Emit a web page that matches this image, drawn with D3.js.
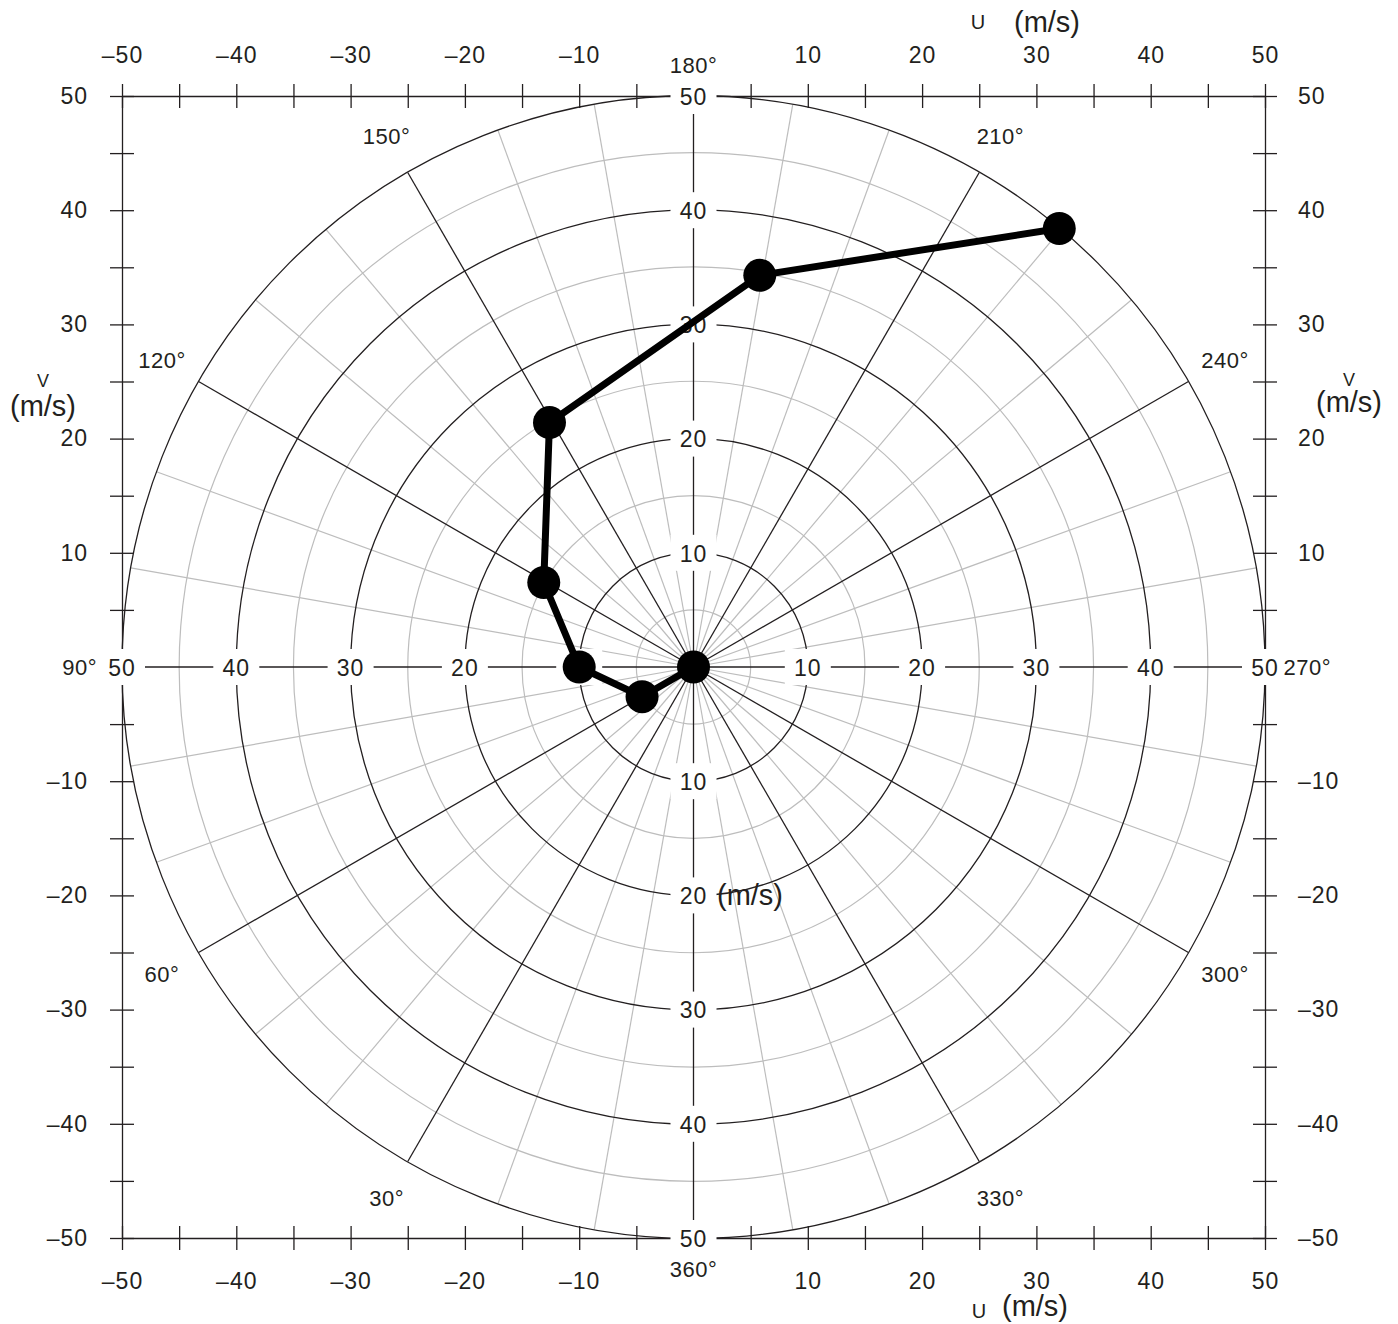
<!DOCTYPE html>
<html>
<head>
<meta charset="utf-8">
<script src="https://cdn.jsdelivr.net/npm/d3@7"></script>
<style>
  html, body { margin: 0; padding: 0; background: #fff; }
  svg text { font-family: "Liberation Sans", Arial, Helvetica, sans-serif; fill: #231f20; }
</style>
</head>
<body>
<svg id="chart" width="1398" height="1324"></svg>
<script>
/*------------------------- data -------------------------*/
// hodograph points, wind components in m/s
const uComp = [0, -4.5, -10.0, -13.1, -12.6, 5.8, 32.0];
const vComp = [0, -2.6, 0.0, 7.4, 21.4, 34.3, 38.4];

// frame ticks (every 5 m/s, labelled every 10 except 0)
const frameTicks = [-50, -45, -40, -35, -30, -25, -20, -15, -10, -5, 0, 5, 10, 15, 20, 25, 30, 35, 40, 45, 50];
// speed rings and their labels along the axes
const ringsMajor = [10, 20, 30, 40, 50];
const ringsMinor = [5, 15, 25, 35, 45];
// direction spokes (degrees)
const spokesMajor = [0, 30, 60, 90, 120, 150, 180, 210, 240, 270, 300, 330];
const spokesMinor = [10, 20, 40, 50, 70, 80, 100, 110, 130, 140, 160, 170, 190, 200, 220, 230, 250, 260, 280, 290, 310, 320, 340, 350];
const angleLabels = [30, 60, 90, 120, 150, 180, 210, 240, 270, 300, 330, 360];

/*------------------------- setup ------------------------*/
const ink = "#231f20";
const grey = "#bdbdbd";
const svg = d3.select("#chart");

const x = d3.scaleLinear().domain([-50, 50]).range([122, 1265]);
const y = d3.scaleLinear().domain([-50, 50]).range([1238, 96]);
const r = d3.scaleLinear().domain([0, 50]).range([0, x(50) - x(0)]);
const cx = x(0), cy = y(0);

// direction the wind comes from -> point on the chart
function polar(dir, s) {
    const a = dir * Math.PI / 180;
    return [x(-s * Math.sin(a)), y(-s * Math.cos(a))];
}

const fmt = d => (d === 0 || d % 10 !== 0) ? "" : (d < 0 ? "\u2013" + Math.abs(d) : "" + d);

/*-------------------------- grid ------------------------*/
const grid = svg.append("g");

grid.selectAll("line.minor")
    .data(spokesMinor)
    .enter().append("line")
    .attr("x1", cx).attr("y1", cy)
    .attr("x2", d => polar(d, 50)[0])
    .attr("y2", d => polar(d, 50)[1])
    .attr("stroke", grey).attr("stroke-width", 1.2);

grid.selectAll("circle.minor")
    .data(ringsMinor)
    .enter().append("circle")
    .attr("cx", cx).attr("cy", cy)
    .attr("r", d => r(d))
    .attr("fill", "none")
    .attr("stroke", grey).attr("stroke-width", 1.2);

grid.selectAll("line.major")
    .data(spokesMajor)
    .enter().append("line")
    .attr("x1", cx).attr("y1", cy)
    .attr("x2", d => polar(d, 50)[0])
    .attr("y2", d => polar(d, 50)[1])
    .attr("stroke", ink).attr("stroke-width", 1.3);

grid.selectAll("circle.major")
    .data(ringsMajor)
    .enter().append("circle")
    .attr("cx", cx).attr("cy", cy)
    .attr("r", d => r(d))
    .attr("fill", "none")
    .attr("stroke", ink).attr("stroke-width", 1.3);

/*------------------------- frame ------------------------*/
function styleAxis(g) {
    g.attr("color", ink);
    g.selectAll("text").style("font-size", "23px").style("letter-spacing", "1px");
    g.selectAll(".domain").attr("stroke-width", 1.3);
    g.selectAll(".tick line").attr("stroke-width", 1.3);
}

svg.append("g")
    .attr("transform", "translate(0," + y(50) + ")")
    .call(d3.axisTop(x).tickValues(frameTicks).tickFormat(fmt).tickSizeOuter(0).tickSizeInner(12).tickPadding(21))
    .call(styleAxis)
    .call(g => g.selectAll(".tick line").attr("y1", 12));

svg.append("g")
    .attr("transform", "translate(0," + y(-50) + ")")
    .call(d3.axisBottom(x).tickValues(frameTicks).tickFormat(fmt).tickSizeOuter(0).tickSizeInner(12).tickPadding(23))
    .call(styleAxis)
    .call(g => g.selectAll(".tick line").attr("y1", -12));

svg.append("g")
    .attr("transform", "translate(" + x(-50) + ",0)")
    .call(d3.axisLeft(y).tickValues(frameTicks).tickFormat(fmt).tickSizeOuter(0).tickSizeInner(12).tickPadding(22))
    .call(styleAxis)
    .call(g => g.selectAll(".tick line").attr("x1", 12));

svg.append("g")
    .attr("transform", "translate(" + x(50) + ",0)")
    .call(d3.axisRight(y).tickValues(frameTicks).tickFormat(fmt).tickSizeOuter(0).tickSizeInner(12).tickPadding(21))
    .call(styleAxis)
    .call(g => g.selectAll(".tick line").attr("x1", -12));

/*-------------------- speed labels on axes ---------------*/
const inner = [];
ringsMajor.forEach(s => {
    inner.push({ px: x(-s), py: cy, t: s });
    inner.push({ px: x(s), py: cy, t: s });
    inner.push({ px: cx, py: y(s), t: s });
    inner.push({ px: cx, py: y(-s), t: s });
});

const lab = svg.append("g").selectAll("g")
    .data(inner)
    .enter().append("g")
    .attr("transform", d => "translate(" + d.px + "," + d.py + ")");

lab.append("rect")
    .attr("x", -23).attr("y", -18)
    .attr("width", 46).attr("height", 36)
    .attr("fill", "#fff");

lab.append("text")
    .attr("text-anchor", "middle")
    .attr("dy", "0.38em")
    .style("font-size", "23px")
    .style("letter-spacing", "1px")
    .text(d => d.t);

/*--------------------- direction labels ------------------*/
svg.append("g").selectAll("text")
    .data(angleLabels)
    .enter().append("text")
    .attr("x", d => polar(d, d % 180 === 0 ? 52.7 : 53.7)[0])
    .attr("y", d => polar(d, d % 180 === 0 ? 52.7 : 53.7)[1])
    .attr("text-anchor", "middle")
    .attr("dy", "0.36em")
    .style("font-size", "22px")
    .style("letter-spacing", "0.5px")
    .text(d => d + "\u00b0");

/*-------------------------- titles ----------------------*/
const titles = svg.append("g");
titles.append("text").attr("x", 978).attr("y", 29).attr("text-anchor", "middle").style("font-size", "20px").text("U");
titles.append("text").attr("x", 1047).attr("y", 32).attr("text-anchor", "middle").style("font-size", "29px").text("(m/s)");
titles.append("text").attr("x", 979).attr("y", 1318).attr("text-anchor", "middle").style("font-size", "20px").text("U");
titles.append("text").attr("x", 1035).attr("y", 1316).attr("text-anchor", "middle").style("font-size", "29px").text("(m/s)");
titles.append("text").attr("x", 43).attr("y", 387).attr("text-anchor", "middle").style("font-size", "18px").text("V");
titles.append("text").attr("x", 43).attr("y", 416).attr("text-anchor", "middle").style("font-size", "29px").text("(m/s)");
titles.append("text").attr("x", 1349).attr("y", 386).attr("text-anchor", "middle").style("font-size", "18px").text("V");
titles.append("text").attr("x", 1349).attr("y", 412).attr("text-anchor", "middle").style("font-size", "29px").text("(m/s)");
titles.append("text").attr("x", 750).attr("y", 905).attr("text-anchor", "middle").style("font-size", "29px").text("(m/s)");

/*--------------------------- data -----------------------*/
const pts = uComp.map((u, i) => ({ u: u, v: vComp[i] }));

svg.append("path")
    .datum(pts)
    .attr("fill", "none")
    .attr("stroke", "#000")
    .attr("stroke-width", 7)
    .attr("stroke-linejoin", "round")
    .attr("d", d3.line().x(d => x(d.u)).y(d => y(d.v)));

svg.append("g").selectAll("circle")
    .data(pts)
    .enter().append("circle")
    .attr("cx", d => x(d.u))
    .attr("cy", d => y(d.v))
    .attr("r", 16.5)
    .attr("fill", "#000");
</script>
</body>
</html>
